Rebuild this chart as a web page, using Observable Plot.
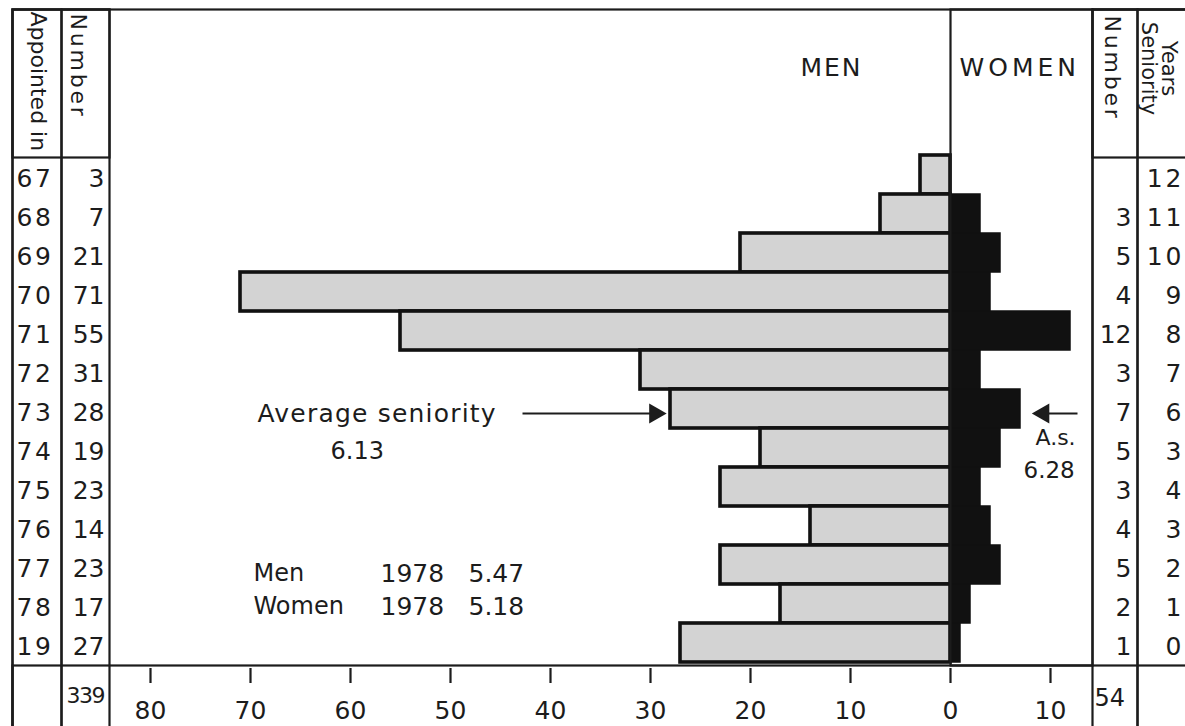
<!DOCTYPE html>
<html><head><meta charset="utf-8">
<script src="https://cdn.jsdelivr.net/npm/d3@7"></script>
<script src="https://cdn.jsdelivr.net/npm/@observablehq/plot@0.6"></script>
<style>html,body{margin:0;padding:0;background:#fff;} #chart svg{display:block}</style>
</head><body><div id="chart"></div>
<script>
// ---- data ----
const years      = ["67","68","69","70","71","72","73","74","75","76","77","78","19"];
const menCounts  = [3, 7, 21, 71, 55, 31, 28, 19, 23, 14, 23, 17, 27];
const womenCounts= [0, 3, 5, 4, 12, 3, 7, 5, 3, 4, 5, 2, 1];
const seniority  = [12, 11, 10, 9, 8, 7, 6, 3, 4, 3, 2, 1, 0];
const menTicks   = [80, 70, 60, 50, 40, 30, 20, 10, 0];
const womenTicks = [10];
const menTotal = 339, womenTotal = 54;
const menAvg = "6.13", womenAvg = "6.28";
const avgRow = "73";
const note1978 = [["Men", "1978", "5.47"], ["Women", "1978", "5.18"]];

const rows = years.map((y, i) => ({year: y, men: menCounts[i], women: womenCounts[i], sen: seniority[i]}));
const ticks = [...menTicks.map(v => -v), ...womenTicks];

const W = 1185, H = 726;
const FONT = "DejaVu Sans";
const INK = "#1c1c1c";
const box = (x0, y0, x1, y1, sw = 2.2) => Plot.frame({insetLeft: x0, insetTop: y0, insetRight: W - x1, insetBottom: H - y1, stroke: INK, strokeWidth: sw});
const label = (text, x, y, o = {}) => Plot.text([text], {text: d => d, frameAnchor: "top-left", dx: x, dy: y, textAnchor: "start", lineAnchor: "middle", fontSize: 23, fill: INK, ...o});
// letter spacing is applied after rendering, keyed by the mark's aria-description
const ls = (px, name) => ({ariaDescription: `ls:${px}:${name}`});

const avg = rows.find(d => d.year === avgRow);

const chart = Plot.plot({
  width: W, height: H, margin: 0,
  style: {fontFamily: FONT, background: "#fff", color: INK},
  x: {domain: [-95, 23.5], axis: null},
  y: {domain: years, range: [152.5, 665], padding: 0, axis: null},
  marks: [
    // bars
    Plot.barX(rows, {y: "year", x1: 0, x2: d => -d.men, fill: "#d3d3d3", stroke: "#111", strokeWidth: 3.6}),
    Plot.barX(rows.filter(d => d.women > 0), {y: "year", x1: 0, x2: d => d.women, fill: "#111", stroke: "#111", strokeWidth: 1.5}),
    // table grid
    box(12, 9, 1190, 730),
    box(12, 9, 61, 730),
    box(61, 9, 109, 730),
    box(1092, 9, 1137, 730),
    box(1137, 9, 1190, 730),
    box(12, 9, 109, 157),
    box(1092, 9, 1190, 157),
    box(12, 665, 1190, 730),
    box(950, 9, 1092, 665),
    // axis ticks + labels
    Plot.ruleX(ticks, {x: d => d, insetTop: 668, insetBottom: H - 683, stroke: INK, strokeWidth: 2.2}),
    Plot.text(ticks, {x: d => d, text: d => String(Math.abs(d)), frameAnchor: "top", lineAnchor: "middle", dy: 710, fontSize: 25, fill: INK}),
    // table columns
    Plot.text(rows, {y: "year", text: "year", frameAnchor: "left", dx: 16, dy: 4, textAnchor: "start", fontSize: 25, fill: INK, ...ls(2.5, "appointed")}),
    Plot.text(rows, {y: "year", text: d => String(d.men), frameAnchor: "left", dx: 104, dy: 4, textAnchor: "end", fontSize: 25, fill: INK}),
    Plot.text(rows, {y: "year", text: d => d.women ? String(d.women) : "", frameAnchor: "left", dx: 1131, dy: 4, textAnchor: "end", fontSize: 25, fill: INK}),
    Plot.text(rows, {y: "year", text: d => String(d.sen), frameAnchor: "left", dx: 1184, dy: 4, textAnchor: "end", fontSize: 25, fill: INK, ...ls(3, "seniority")}),
    // totals
    label(String(menTotal), 66, 695, {fontSize: 22, ...ls(-1.5, "total")}),
    label(String(womenTotal), 1094, 698, {fontSize: 24}),
    // headers (rotated, reading downwards)
    label("Appointed in", 46, 11, {rotate: 90, lineAnchor: "top", fontSize: 22}),
    label("Number", 86, 13, {rotate: 90, lineAnchor: "top", fontSize: 22, ...ls(2.8, "number-l")}),
    label("Number", 1120, 15, {rotate: 90, lineAnchor: "top", fontSize: 22, ...ls(2.8, "number-r")}),
    label("Years\nSeniority", 1175, 68, {rotate: 90, lineAnchor: "top", fontSize: 21, textAnchor: "middle", lineHeight: 0.92}),
    label("MEN", 800, 67, {fontSize: 25, ...ls(2, "men")}),
    label("WOMEN", 959, 67, {fontSize: 25, ...ls(4, "women")}),
    // annotations
    label("Average seniority", 257, 413, {fontSize: 25, ...ls(1.2, "avg")}),
    label(menAvg, 330, 451, {fontSize: 24}),
    label("A.s.", 1035, 437, {fontSize: 22}),
    label(womenAvg, 1023, 470, {fontSize: 23}),
    label(note1978[0][0], 253, 573, {fontSize: 24}), label(note1978[0][1], 380, 573, {fontSize: 25}), label(note1978[0][2], 468, 573, {fontSize: 25}),
    label(note1978[1][0], 253, 606, {fontSize: 24}), label(note1978[1][1], 380, 606, {fontSize: 25}), label(note1978[1][2], 468, 606, {fontSize: 25}),
    // arrows
    Plot.link([avg], {x1: -42.8, x2: d => -d.men - 2, y1: "year", y2: "year", dy: 4.5, stroke: INK, strokeWidth: 2.2}),
    Plot.dot([avg], {x: d => -d.men - 1.55, y: "year", dy: 4.5, symbol: "triangle", r: 7.5, rotate: 90, fill: INK, stroke: "none"}),
    Plot.link([avg], {x1: 12.7, x2: d => d.women + 2.5, y1: "year", y2: "year", dy: 4.5, stroke: INK, strokeWidth: 2.2}),
    Plot.dot([avg], {x: d => d.women + 2.3, y: "year", dy: 4.5, symbol: "triangle", r: 7.5, rotate: -90, fill: INK, stroke: "none"})
  ]
});
chart.querySelectorAll('[aria-description^="ls:"]').forEach(g => {
  const px = g.getAttribute("aria-description").split(":")[1];
  g.style.letterSpacing = px + "px";
  g.querySelectorAll("text, tspan").forEach(t => t.style.letterSpacing = px + "px");
});
document.getElementById("chart").appendChild(chart);
</script>
</body></html>
